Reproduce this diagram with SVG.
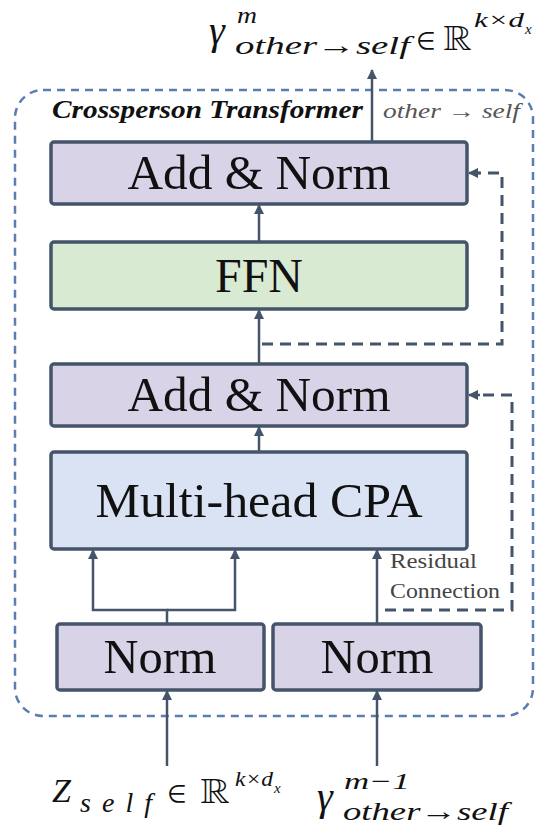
<svg xmlns="http://www.w3.org/2000/svg" width="539" height="829" viewBox="0 0 539 829">
<style>
.box{stroke:#44546a;stroke-width:3.5}
.pur{fill:#d9d3e8}
.grn{fill:#d9ead3}
.blu{fill:#dae3f3}
text{font-family:"Liberation Serif","Times New Roman",Times,Tinos,"Nimbus Roman",FreeSerif,"Noto Serif","DejaVu Serif",serif}
.lbl{font-size:48px;fill:#111;text-anchor:middle}
.ln{stroke:#44546a;stroke-width:2.5;fill:none}
.dl{stroke:#44546a;stroke-width:3;fill:none;stroke-dasharray:11 7}
.it{font-style:italic;fill:#111}
.rm{fill:#111}
</style>
<defs>
<marker id="ah" viewBox="0 0 10 10" refX="9" refY="5" markerWidth="4.2" markerHeight="4.2" orient="auto" markerUnits="strokeWidth">
<path d="M0,0 L10,5 L0,10 z" fill="#44546a"/>
</marker>
</defs>

<g id="container">
<rect x="15" y="90" width="518" height="626" rx="28" ry="28" fill="none" stroke="#5b7db1" stroke-width="2.5" stroke-dasharray="8 6"/>
<text x="52" y="118" font-weight="bold" font-style="italic" font-size="25" textLength="311" lengthAdjust="spacingAndGlyphs" fill="#111">Crossperson Transformer</text>
<text x="383" y="118" font-style="italic" font-size="20" fill="#555" textLength="137" lengthAdjust="spacingAndGlyphs">other → self</text>
</g>

<g id="connectors">
<line class="ln" x1="372" y1="142" x2="372" y2="70" marker-end="url(#ah)"/>
<line class="ln" x1="259" y1="242" x2="259" y2="205" marker-end="url(#ah)"/>
<line class="ln" x1="259" y1="364" x2="259" y2="310" marker-end="url(#ah)"/>
<line class="ln" x1="259" y1="452" x2="259" y2="427" marker-end="url(#ah)"/>
<polyline class="ln" points="167,624 167,610 93,610 93,550" marker-end="url(#ah)"/>
<polyline class="ln" points="167,610 235,610 235,550" marker-end="url(#ah)"/>
<line class="ln" x1="377" y1="624" x2="377" y2="550" marker-end="url(#ah)"/>
<line class="ln" x1="167" y1="766" x2="167" y2="691" marker-end="url(#ah)"/>
<line class="ln" x1="377" y1="766" x2="377" y2="691" marker-end="url(#ah)"/>
<polyline class="dl" points="262,344 502,344 502,173 478,173"/>
<line class="ln" x1="480" y1="173" x2="469" y2="173" marker-end="url(#ah)"/>
<polyline class="dl" points="385,610 512,610 512,395 478,395"/>
<line class="ln" x1="480" y1="395" x2="469" y2="395" marker-end="url(#ah)"/>
<text x="390" y="568" font-size="22" textLength="87" lengthAdjust="spacingAndGlyphs" fill="#444">Residual</text>
<text x="390" y="598" font-size="22" textLength="110" lengthAdjust="spacingAndGlyphs" fill="#444">Connection</text>
</g>

<g id="addnorm-top">
<rect class="box pur" x="51" y="142" width="416" height="62" rx="3"/>
<text class="lbl" x="259" y="189" textLength="263" lengthAdjust="spacingAndGlyphs">Add &amp; Norm</text>
</g>
<g id="ffn">
<rect class="box grn" x="51" y="242" width="416" height="67" rx="3"/>
<text class="lbl" x="259" y="292" textLength="88" lengthAdjust="spacingAndGlyphs">FFN</text>
</g>
<g id="addnorm-bottom">
<rect class="box pur" x="51" y="364" width="416" height="62" rx="3"/>
<text class="lbl" x="259" y="411" textLength="263" lengthAdjust="spacingAndGlyphs">Add &amp; Norm</text>
</g>
<g id="cpa">
<rect class="box blu" x="51" y="452" width="416" height="97" rx="3"/>
<text class="lbl" x="259" y="517" textLength="327" lengthAdjust="spacingAndGlyphs">Multi-head CPA</text>
</g>
<g id="norm-left">
<rect class="box pur" x="57" y="624" width="207" height="66" rx="3"/>
<text class="lbl" x="160" y="673" textLength="113" lengthAdjust="spacingAndGlyphs">Norm</text>
</g>
<g id="norm-right">
<rect class="box pur" x="273" y="624" width="208" height="66" rx="3"/>
<text class="lbl" x="377" y="673" textLength="113" lengthAdjust="spacingAndGlyphs">Norm</text>
</g>

<g id="output-label">
<text x="209" y="44" class="it" font-size="40">γ</text>
<text x="237" y="23" class="it" font-size="24" textLength="20" lengthAdjust="spacingAndGlyphs">m</text>
<text x="235" y="54" class="it" font-size="26" textLength="175" lengthAdjust="spacingAndGlyphs">other→self</text>
<text x="417" y="50" class="rm" font-size="36">∈</text>
<text x="443" y="50" class="rm" font-size="36" textLength="29" lengthAdjust="spacingAndGlyphs">ℝ</text>
<text x="474" y="27" class="it" font-size="22" textLength="50" lengthAdjust="spacingAndGlyphs">k×d</text>
<text x="525" y="34" class="it" font-size="15">x</text>
</g>

<g id="input-self-label">
<text x="52" y="802" class="it" font-size="34">Z</text>
<text x="80" y="812" class="it" font-size="28" textLength="72" lengthAdjust="spacing">self</text>
<text x="168" y="803" class="rm" font-size="36">∈</text>
<text x="200" y="803" class="rm" font-size="36" textLength="30" lengthAdjust="spacingAndGlyphs">ℝ</text>
<text x="235" y="786" class="it" font-size="21" textLength="38" lengthAdjust="spacingAndGlyphs">k×d</text>
<text x="274" y="793" class="it" font-size="15">x</text>
</g>

<g id="input-other-label">
<text x="317" y="810" class="it" font-size="40">γ</text>
<text x="344" y="789" class="it" font-size="23" textLength="66" lengthAdjust="spacingAndGlyphs">m−1</text>
<text x="343" y="820" class="it" font-size="26" textLength="165" lengthAdjust="spacingAndGlyphs">other→self</text>
</g>
</svg>
